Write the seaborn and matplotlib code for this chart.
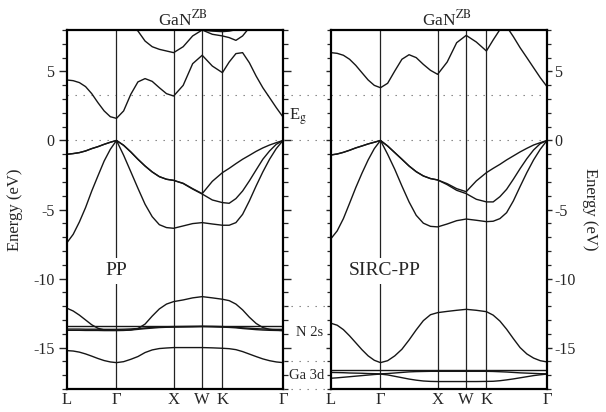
import matplotlib
matplotlib.use("Agg")
import matplotlib.pyplot as plt
from matplotlib.ticker import MultipleLocator
import seaborn as sns
import pandas as pd

# ---------------- data ----------------
HS_K = [0.000, 0.866, 1.866, 2.366, 2.720, 3.780]
HS_LABELS = ["L", "Γ", "X", "W", "K", "Γ"]
K_GRID = [0.000, 0.108, 0.217, 0.325, 0.433, 0.541, 0.650, 0.758, 0.866,
          0.991, 1.116, 1.241, 1.366, 1.491, 1.616, 1.741, 1.866,
          2.033, 2.199, 2.366,
          2.543, 2.720,
          2.838, 2.956, 3.073, 3.191, 3.309, 3.427, 3.545, 3.662, 3.780]

# ---- PP panel bands (eV) ----
pp_c1 = [4.38, 4.33, 4.19, 3.90, 3.39, 2.74, 2.14, 1.72, 1.60,
         2.14, 3.34, 4.24, 4.48, 4.28, 3.82, 3.39, 3.22,
         3.99, 5.56, 6.17,
         5.39, 4.91,
         5.68, 6.29, 6.36, 5.63, 4.67, 3.82, 3.10, 2.38, 1.70]
pp_c2 = [9.80, 9.70, 9.60, 9.50, 9.40, 9.30, 9.20, 9.10, 9.00,
         8.70, 8.30, 7.93, 7.20, 6.79, 6.60, 6.48, 6.36,
         6.79, 7.57, 8.00,
         7.69, 7.57,
         7.45, 7.25, 7.57, 8.17, 8.60, 9.00, 9.30, 9.50, 9.70]
pp_c3 = [9.60, 9.55, 9.50, 9.45, 9.40, 9.35, 9.30, 9.25, 9.20,
         9.10, 9.00, 8.90, 8.80, 8.70, 8.60, 8.50, 8.40,
         8.30, 8.15, 7.99,
         7.92, 7.88,
         7.92, 8.02, 8.20, 8.50, 8.80, 9.00, 9.20, 9.40, 9.60]
pp_v3 = [-1.00, -0.95, -0.88, -0.76, -0.59, -0.45, -0.28, -0.13, 0.00,
         -0.35, -0.83, -1.36, -1.85, -2.28, -2.62, -2.81, -2.89,
         -3.10, -3.49, -3.85,
         -2.96, -2.33,
         -2.02, -1.68, -1.36, -1.08, -0.79, -0.54, -0.33, -0.16, 0.00]
pp_v2 = [-1.00, -0.95, -0.88, -0.76, -0.59, -0.45, -0.28, -0.13, 0.00,
         -0.35, -0.83, -1.36, -1.85, -2.28, -2.62, -2.81, -2.89,
         -3.12, -3.52, -3.88,
         -4.31, -4.50,
         -4.55, -4.21, -3.66, -2.93, -2.14, -1.36, -0.76, -0.28, 0.00]
pp_v1 = [-7.40, -6.80, -5.90, -4.86, -3.66, -2.57, -1.49, -0.64, 0.00,
         -1.07, -2.26, -3.46, -4.62, -5.52, -6.10, -6.31, -6.36,
         -6.19, -6.02, -5.95,
         -6.05, -6.14,
         -6.14, -5.95, -5.35, -4.38, -3.30, -2.28, -1.36, -0.59, 0.00]
pp_u = [-12.15, -12.35, -12.65, -13.00, -13.35, -13.60, -13.72, -13.75, -13.75,
        -13.74, -13.72, -13.62, -13.30, -12.72, -12.20, -11.85, -11.67,
        -11.55, -11.40, -11.31,
        -11.40, -11.50,
        -11.60, -11.85, -12.27, -12.80, -13.25, -13.55, -13.68, -13.74, -13.77]
pp_d1 = [-13.43, -13.43, -13.43, -13.43, -13.43, -13.43, -13.43, -13.43, -13.43,
         -13.43, -13.43, -13.43, -13.43, -13.43, -13.43, -13.43, -13.43,
         -13.43, -13.43, -13.43,
         -13.43, -13.43,
         -13.43, -13.43, -13.43, -13.43, -13.43, -13.43, -13.43, -13.43, -13.43]
pp_d2 = [-13.66, -13.66, -13.66, -13.67, -13.67, -13.67, -13.68, -13.68, -13.68,
         -13.67, -13.65, -13.62, -13.58, -13.54, -13.51, -13.49, -13.48,
         -13.47, -13.46, -13.45,
         -13.46, -13.48,
         -13.50, -13.53, -13.57, -13.60, -13.63, -13.65, -13.67, -13.68, -13.68]
pp_d3 = [-13.75, -13.75, -13.75, -13.76, -13.76, -13.76, -13.77, -13.77, -13.77,
         -13.76, -13.73, -13.68, -13.63, -13.59, -13.55, -13.53, -13.52,
         -13.51, -13.50, -13.48,
         -13.50, -13.52,
         -13.54, -13.57, -13.62, -13.66, -13.70, -13.73, -13.75, -13.76, -13.77]
pp_s = [-15.22, -15.25, -15.33, -15.46, -15.62, -15.79, -15.94, -16.04, -16.09,
        -16.02, -15.85, -15.65, -15.36, -15.17, -15.07, -15.03, -15.00,
        -15.00, -15.00, -15.00,
        -15.02, -15.05,
        -15.08, -15.15, -15.29, -15.47, -15.65, -15.82, -15.95, -16.04, -16.09]

# ---- SIRC-PP panel bands (eV) ----
sirc_c1 = [6.36, 6.31, 6.17, 5.88, 5.44, 4.91, 4.38, 3.99, 3.82,
           4.14, 5.03, 5.88, 6.21, 6.00, 5.51, 5.08, 4.79,
           5.68, 7.08, 7.61,
           7.13, 6.48,
           7.28, 8.03, 8.25, 7.52, 6.72, 6.00, 5.27, 4.55, 3.90]
sirc_c2 = [9.50, 9.45, 9.40, 9.35, 9.30, 9.25, 9.20, 9.10, 9.00,
           8.90, 8.80, 8.65, 8.50, 8.35, 8.20, 8.05, 7.97,
           8.15, 8.40, 8.60,
           8.80, 9.00,
           9.10, 9.20, 9.30, 9.35, 9.40, 9.45, 9.50, 9.55, 9.60]
sirc_v3 = [-1.05, -0.98, -0.86, -0.71, -0.54, -0.40, -0.25, -0.13, 0.00,
           -0.40, -0.88, -1.36, -1.85, -2.26, -2.57, -2.76, -2.86,
           -3.13, -3.49, -3.71,
           -2.93, -2.33,
           -2.02, -1.73, -1.41, -1.12, -0.83, -0.57, -0.33, -0.16, 0.00]
sirc_v2 = [-1.05, -0.98, -0.86, -0.71, -0.54, -0.40, -0.25, -0.13, 0.00,
           -0.40, -0.88, -1.36, -1.85, -2.26, -2.57, -2.76, -2.86,
           -3.20, -3.61, -3.85,
           -4.26, -4.45,
           -4.45, -4.07, -3.54, -2.81, -2.04, -1.32, -0.69, -0.23, 0.00]
sirc_v1 = [-7.11, -6.55, -5.66, -4.55, -3.42, -2.38, -1.41, -0.59, 0.00,
           -1.00, -2.09, -3.30, -4.45, -5.42, -5.99, -6.22, -6.26,
           -6.05, -5.81, -5.69,
           -5.78, -5.88,
           -5.85, -5.66, -5.23, -4.38, -3.34, -2.33, -1.41, -0.64, 0.00]
sirc_s = [-13.24, -13.38, -13.70, -14.15, -14.65, -15.15, -15.60, -15.92, -16.09,
          -15.95, -15.60, -15.12, -14.45, -13.72, -13.05, -12.62, -12.47,
          -12.38, -12.30, -12.23,
          -12.30, -12.40,
          -12.65, -13.08, -13.67, -14.35, -15.00, -15.46, -15.76, -15.95, -16.04]
sirc_d1 = [-16.62, -16.62, -16.62, -16.62, -16.62, -16.62, -16.62, -16.62, -16.62,
           -16.62, -16.62, -16.62, -16.62, -16.62, -16.62, -16.62, -16.62,
           -16.62, -16.62, -16.62,
           -16.62, -16.62,
           -16.62, -16.62, -16.62, -16.62, -16.62, -16.62, -16.62, -16.62, -16.62]
sirc_d2 = [-16.80, -16.81, -16.82, -16.84, -16.85, -16.86, -16.88, -16.89, -16.90,
           -16.88, -16.84, -16.80, -16.76, -16.74, -16.73, -16.72, -16.72,
           -16.72, -16.72, -16.72,
           -16.72, -16.72,
           -16.73, -16.75, -16.77, -16.80, -16.83, -16.85, -16.87, -16.89, -16.90]
sirc_d3 = [-17.22, -17.19, -17.15, -17.11, -17.07, -17.03, -16.99, -16.95, -16.92,
           -16.98, -17.08, -17.18, -17.28, -17.36, -17.42, -17.45, -17.46,
           -17.46, -17.46, -17.46,
           -17.46, -17.45,
           -17.44, -17.40, -17.34, -17.27, -17.19, -17.11, -17.03, -16.97, -16.92]

PP_BANDS = {"c1": pp_c1, "c2": pp_c2, "c3": pp_c3, "v1": pp_v1, "v2": pp_v2, "v3": pp_v3,
            "u": pp_u, "d1": pp_d1, "d2": pp_d2, "d3": pp_d3, "s": pp_s}
SIRC_BANDS = {"c1": sirc_c1, "c2": sirc_c2, "v1": sirc_v1, "v2": sirc_v2, "v3": sirc_v3,
              "s": sirc_s, "d1": sirc_d1, "d2": sirc_d2, "d3": sirc_d3}

E_GAP_LINE = 3.26
GAP_MARKS = [-12.0, -16.0, -18.0]

# ---------------- style ----------------
sns.set_style("ticks")
plt.rcParams["font.family"] = ["Liberation Serif", "DejaVu Serif"]
plt.rcParams["mathtext.fontset"] = "stix"
plt.rcParams["axes.unicode_minus"] = False

W, H = 606, 412
fig = plt.figure(figsize=(W / 100, H / 100), dpi=100)
axL = fig.add_axes([67 / W, 23 / H, 216 / W, 359 / H])
axR = fig.add_axes([331 / W, 23 / H, 216 / W, 359 / H])

band_color = "#161616"
dot_style = dict(color="#777777", lw=0.8, linestyle=(0, (1.2, 6)))


def to_df(bands):
    rows = []
    for name, vals in bands.items():
        for k, e in zip(K_GRID, vals):
            rows.append({"band": name, "k": k, "E": e})
    return pd.DataFrame(rows)


for ax, bands in [(axL, PP_BANDS), (axR, SIRC_BANDS)]:
    for k in HS_K[1:-1]:
        ax.axvline(k, color="#222222", lw=0.9, zorder=1)
    sns.lineplot(data=to_df(bands), x="k", y="E", units="band", estimator=None,
                 sort=False, color=band_color, lw=1.0, ax=ax, legend=False, zorder=2)
    ax.set_xlim(HS_K[0], HS_K[-1])
    ax.set_ylim(-18, 8)
    ax.set_xticks(HS_K)
    ax.set_xticklabels(HS_LABELS, fontsize=12)
    ax.tick_params(axis="x", length=0, pad=2)
    ax.set_yticks([-15, -10, -5, 0, 5])
    ax.yaxis.set_minor_locator(MultipleLocator(1))
    ax.set_xlabel("")
    for sp in ax.spines.values():
        sp.set_visible(True)
        sp.set_linewidth(1.6)
        sp.set_color("black")
    ax.set_title("GaN$^{\\mathrm{ZB}}$", fontsize=12.5, pad=3, x=0.535)
    ax.plot([HS_K[0], HS_K[-1]], [0, 0], **dot_style, zorder=0)
    ax.plot([HS_K[0], HS_K[-1]], [E_GAP_LINE, E_GAP_LINE], **dot_style, zorder=0)

axL.tick_params(axis="y", which="both", direction="out", left=True, right=True,
                labelleft=True, labelright=False, labelsize=11.5, width=1.0)
axL.tick_params(axis="y", which="major", length=5.5, pad=3.5)
axL.tick_params(axis="y", which="minor", length=3.5, width=0.9)
axL.set_ylabel("Energy (eV)", fontsize=12)
axL.yaxis.set_label_coords(-0.205, 0.5)

axR.tick_params(axis="y", which="both", direction="out", left=True, right=True,
                labelleft=False, labelright=True, labelsize=11.5, width=1.0)
axR.tick_params(axis="y", which="major", length=3.5, pad=1.5)
axR.tick_params(axis="y", which="minor", length=3.0, width=0.9)
axR.yaxis.set_label_position("right")
axR.set_ylabel("Energy (eV)", fontsize=12, rotation=270, va="center")
axR.yaxis.set_label_coords(1.2, 0.5)

# gap between the panels
gap_end = HS_K[-1] + 48 / 57.1
for y in [0.0, E_GAP_LINE] + GAP_MARKS:
    axL.plot([HS_K[-1], gap_end], [y, y], clip_on=False, **dot_style)
axL.text(4.05, 1.7, "E$_\\mathrm{g}$", ha="center", va="center", fontsize=12, clip_on=False)
axL.text(4.24, -13.9, "N 2s", ha="center", va="center", fontsize=10.5, clip_on=False)
axL.text(4.20, -17.0, "Ga 3d", ha="center", va="center", fontsize=10.5, clip_on=False)

# panel labels
box = dict(facecolor="white", edgecolor="none", pad=3)
axL.text(0.866, -9.45, "PP", ha="center", va="center", fontsize=14, bbox=box, zorder=3)
axR.text(0.946, -9.45, "SIRC-PP", ha="center", va="center", fontsize=14, bbox=box, zorder=3)

fig.savefig("out.png", dpi=100)
